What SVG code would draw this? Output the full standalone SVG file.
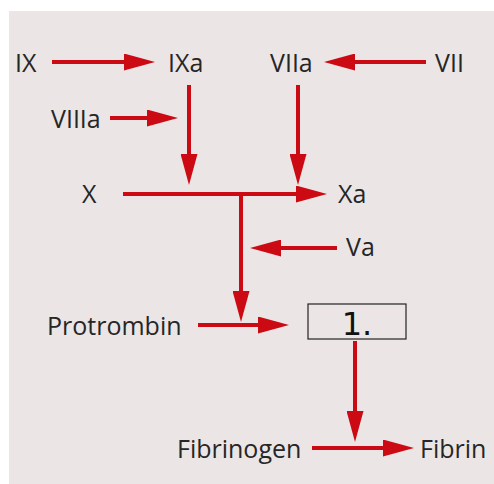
<svg xmlns="http://www.w3.org/2000/svg" width="494" height="484" viewBox="0 0 494 484">
<style>
.lbl{font-family:"Open Sans","Noto Sans","Liberation Sans",sans-serif;font-size:25px;fill:#262626}
.ar{stroke:#cc0a14;stroke-width:4;fill:none;marker-end:url(#ah)}
.ln{stroke:#cc0a14;stroke-width:4;fill:none}
</style>
<defs>
<marker id="ah" markerUnits="userSpaceOnUse" markerWidth="31" markerHeight="17" refX="20" refY="8.5" orient="auto" viewBox="0 0 31 17">
<path d="M0,0 L31,8.5 L0,17 z" fill="#cc0a14"/>
</marker>
</defs>
<rect x="0" y="0" width="494" height="484" fill="#ffffff"/>
<rect x="9" y="11" width="485" height="473" fill="#ebe5e5"/>
<g id="connectors">
<path class="ar" d="M52,62 H144"/>
<path class="ar" d="M426,62 H335"/>
<path class="ar" d="M110,118 H167"/>
<path class="ar" d="M189,85 V174"/>
<path class="ar" d="M298,85 V174"/>
<path class="ar" d="M123,194 H316"/>
<path class="ar" d="M241,194 V311"/>
<path class="ar" d="M337,248 H261"/>
<path class="ar" d="M198,325 H278"/>
<path class="ar" d="M355,341 V431"/>
<path class="ar" d="M312,448 H403"/>
</g>
<g id="n-IX"><text class="lbl" x="15" y="72">IX</text></g>
<g id="n-IXa"><text class="lbl" x="168" y="72">IXa</text></g>
<g id="n-VIIa"><text class="lbl" x="270" y="72">VIIa</text></g>
<g id="n-VII"><text class="lbl" x="435" y="72">VII</text></g>
<g id="n-VIIIa"><text class="lbl" x="51" y="128">VIIIa</text></g>
<g id="n-X"><text class="lbl" x="82" y="203">X</text></g>
<g id="n-Xa"><text class="lbl" x="338" y="203">Xa</text></g>
<g id="n-Va"><text class="lbl" x="346" y="256">Va</text></g>
<g id="n-Protrombin"><text class="lbl" x="47" y="335">Protrombin</text></g>
<g id="n-1">
<rect x="308" y="304" width="98" height="35" fill="none" stroke="#222" stroke-width="1.2"/>
<text x="357" y="335" text-anchor="middle" font-family="DejaVu Sans, sans-serif" font-size="32" fill="#111">1.</text>
</g>
<g id="n-Fibrinogen"><text class="lbl" x="177" y="458">Fibrinogen</text></g>
<g id="n-Fibrin"><text class="lbl" x="420" y="458">Fibrin</text></g>
</svg>
